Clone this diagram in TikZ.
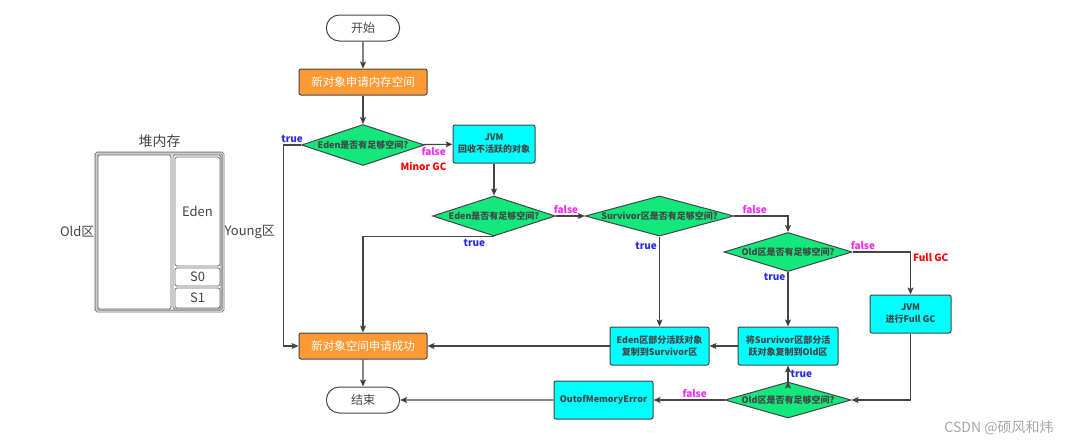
\documentclass[tikz,border=0pt]{standalone}
\usepackage{fontspec}
\setmainfont{Noto Sans CJK SC}
\usepackage{tikz}
\usetikzlibrary{arrows.meta,positioning,shapes.geometric,shapes.misc}
\definecolor{boxorange}{RGB}{255,153,51}
\definecolor{boxgreen}{RGB}{18,232,124}
\definecolor{boxcyan}{RGB}{0,255,255}
\definecolor{linegray}{RGB}{68,68,68}
\definecolor{truecol}{RGB}{40,40,235}
\definecolor{falsecol}{RGB}{250,40,250}

\begin{document}
\begin{tikzpicture}[x=1pt,y=-1pt,>={Stealth[length=7pt,width=6pt,inset=1.5pt]},
	every node/.style={text=linegray},
	term/.style={rounded rectangle,draw=linegray,line width=1pt,minimum width=80pt,minimum height=26pt,font=\fontsize{12}{12}\selectfont},
	orange/.style={rectangle,rounded corners=2pt,draw=linegray,line width=1pt,fill=boxorange,text=white,minimum width=128pt,minimum height=26pt,font=\fontsize{11.5}{12}\selectfont},
	cyan/.style={rectangle,rounded corners=2pt,draw=linegray,line width=1pt,fill=boxcyan,align=center,minimum width=99pt,minimum height=38pt,font=\bfseries\fontsize{9}{12}\selectfont},
	cond/.style={diamond,aspect=3.7,inner sep=0pt,draw=linegray,line width=1pt,fill=boxgreen,font=\bfseries\fontsize{9}{10}\selectfont},
	link/.style={->,draw=linegray,line width=1.1pt},
	tlab/.style={text=truecol,inner sep=2pt,font=\bfseries\fontsize{10}{10}\selectfont},
	flab/.style={text=falsecol,inner sep=2pt,font=\bfseries\fontsize{10}{10}\selectfont},
	gclab/.style={text=red,inner sep=2pt,font=\bfseries\fontsize{10}{10}\selectfont},
	heapbox/.style={rectangle,rounded corners=1.5pt,draw=linegray!80,line width=0.8pt,inner sep=0pt,font=\fontsize{13}{13}\selectfont}]
	\useasboundingbox (0,0) rectangle (1082,447);

	% heap memory
	\node[heapbox,double=white,double distance=1pt,minimum width=127pt,minimum height=158pt] (heap) at (159.5,232) {};
	\node[heapbox,minimum width=73pt,minimum height=154pt] (old) at (134.5,232) {};
	\node[heapbox,minimum width=48pt,minimum height=154pt] (young) at (197,232) {};
	\node[heapbox,minimum width=45pt,minimum height=109pt] (eden) at (197.5,211.5) {Eden};
	\node[heapbox,minimum width=45pt,minimum height=18pt] (s0) at (197.5,277) {S0};
	\node[heapbox,minimum width=45pt,minimum height=20pt] (s1) at (197.5,298) {S1};
	\node[font=\fontsize{14}{14}\selectfont] (heapname) [above=1pt of heap] {堆内存};
	\node[font=\fontsize{13}{13}\selectfont,inner sep=1pt] (oldname) [left=0pt of heap] {Old区};
	\node[font=\fontsize{13}{13}\selectfont,inner sep=1pt] (youngname) [right=0pt of heap] {Young区};

	% flow
	\node[term] (start) at (363,28) {开始};
	\node[orange] (alloc) at (363,82) {新对象申请内存空间};
	\node[cond,minimum width=116pt,minimum height=41pt] (e1) at (363,145) {Eden是否有足够空间?};
	\node[cyan,minimum width=82pt] (gc1) at (494,144) {JVM\\回收不活跃的对象};
	\node[cond,minimum width=118pt,minimum height=40pt] (e2) at (494,216) {Eden是否有足够空间?};
	\node[cond,minimum width=147pt,minimum height=40pt] (sv) at (659.5,216) {Survivor区是否有足够空间?};
	\node[cond,minimum width=128pt,minimum height=39pt] (o1) at (788,252) {Old区是否有足够空间?};
	\node[cyan,minimum width=81pt] (fgc) at (910.5,314) {JVM\\进行Full GC};
	\node[cyan] (cp1) at (659.5,346) {Eden区部分活跃对象\\复制到Survivor区};
	\node[cyan,minimum width=100pt] (cp2) at (788,346) {将Survivor区部分活\\跃对象复制到Old区};
	\node[cond,minimum width=126pt,minimum height=36pt] (o2) at (788,400) {Old区是否有足够空间?};
	\node[cyan] (oom) at (603.5,400) {OutofMemoryError};
	\node[orange] (ok) at (363,346) {新对象空间申请成功};
	\node[term] (stop) at (363,400) {结束};

	\path[link]
	(start) edge (alloc)
	(alloc) edge (e1)
	(e1) edge node[flab,below,pos=0.35] {false} node[gclab,below=15pt,pos=0] {Minor GC} (gc1)
	(gc1) edge (e2)
	(e2) edge node[flab,above,pos=0.35] {false} (sv)
	(sv.south) edge node[tlab,left,pos=0.1] {true} (cp1.north)
	(o1.south) edge node[tlab,left,pos=0.1] {true} (cp2.north)
	(o2.north) edge node[tlab,right,pos=0.5] {true} (cp2.south)
	(cp2) edge (cp1)
	(cp1) edge (ok)
	(oom) edge (stop)
	(ok) edge (stop)
	;
	\draw[link] (o2.west) -- node[flab,above,pos=0.42] {false} (oom.east);
	\draw[link] (e1.west) -- node[tlab,above] {true} ++(-18,0) |- (ok.west);
	\draw[link] (e2.south) -| node[tlab,below,pos=0.075] {true} (ok.north);
	\draw[link] (sv.east) -| node[flab,above,pos=0.19] {false} (o1.north);
	\draw[link] (o1.east) -| node[flab,above,pos=0.09] {false} node[gclab,right,pos=0.56] {Full GC} (fgc.north);
	\draw[link] (fgc.south) |- (o2.east);

	\node[text=gray!70,font=\fontsize{14}{14}\selectfont] (mark) at (999,428) {CSDN @硕风和炜};
\end{tikzpicture}
\end{document}
